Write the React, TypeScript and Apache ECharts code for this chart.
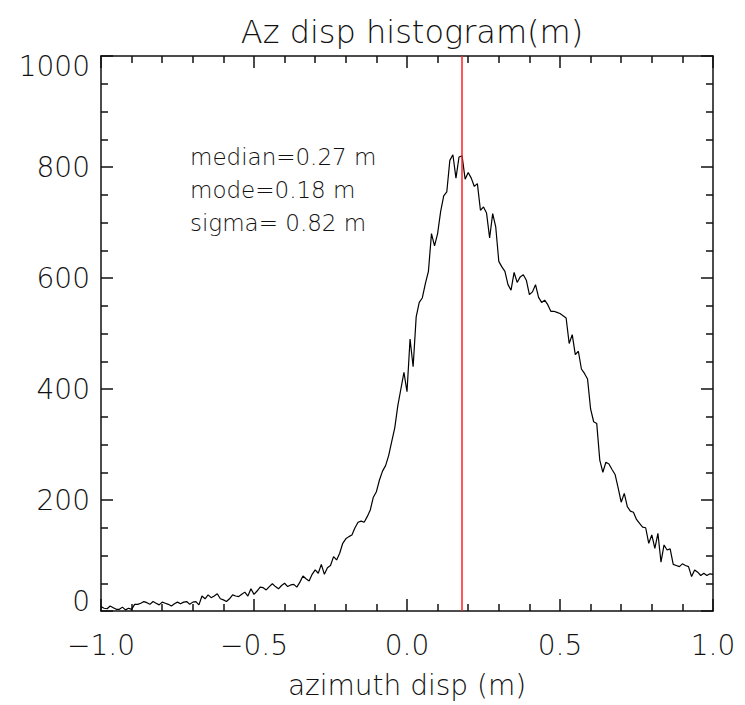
import React, { useEffect, useRef } from "react";
import * as echarts from "echarts";

const TITLE = "Az disp histogram(m)";
const X_NAME = "azimuth disp (m)";
const BIN_START = -1.0;
const BIN_WIDTH = 0.01;
const COUNTS: number[] = [
  8, 5, 4, 9, 6, 3, 3, 7, 2, 5,
  3, 12, 12, 14, 17, 15, 12, 17, 14, 11,
  16, 14, 12, 9, 13, 16, 13, 16, 17, 12,
  16, 17, 11, 27, 22, 29, 24, 27, 31, 22,
  20, 17, 22, 29, 27, 26, 30, 34, 27, 40,
  30, 36, 43, 42, 38, 44, 49, 44, 40, 46,
  50, 44, 47, 48, 43, 52, 63, 58, 54, 66,
  74, 68, 84, 66, 78, 82, 98, 92, 104, 122,
  130, 134, 137, 150, 160, 162, 160, 170, 182, 205,
  215, 236, 252, 262, 280, 305, 330, 370, 400, 430,
  395, 490, 440, 530, 556, 564, 590, 612, 680, 658,
  680, 720, 748, 755, 812, 822, 780, 818, 820, 778,
  790, 780, 765, 770, 722, 728, 717, 672, 716, 692,
  630, 620, 612, 588, 578, 610, 592, 602, 606, 596,
  570, 575, 588, 565, 556, 560, 552, 540, 540, 538,
  536, 532, 528, 482, 498, 462, 468, 436, 428, 418,
  364, 341, 338, 272, 250, 268, 265, 255, 246, 222,
  196, 212, 188, 180, 178, 165, 158, 151, 150, 122,
  137, 113, 140, 88, 119, 110, 112, 84, 82, 80,
  85, 82, 80, 62, 74, 70, 64, 68, 64, 67,
  66,
];
const MODE_VALUE = 0.18;
const STATS_LINES = ["median=0.27 m", "mode=0.18 m", "sigma= 0.82 m"];
const X_MIN = -1.0;
const X_MAX = 1.0;
const X_INTERVAL = 0.5;
const Y_MIN = 0;
const Y_MAX = 1000;
const Y_INTERVAL = 200;

const FONT = "DejaVu Sans";
const INK = "#111";

export default function App() {
  const ref = useRef<HTMLDivElement>(null);
  useEffect(() => {
    if (!ref.current) return;
    const chart = echarts.init(ref.current, null, { renderer: "svg" });
    const data = COUNTS.map((c, i) => [
      +(BIN_START + i * BIN_WIDTH).toFixed(3),
      c,
    ]);
    const axisLine = { show: true, onZero: false, lineStyle: { color: INK, width: 1.5 } };
    const xTick = { show: true, inside: true, length: 12, lineStyle: { color: INK, width: 1.5 } };
    const xMinor = { show: true, splitNumber: 5, length: 7, lineStyle: { color: INK, width: 1.5 } };
    const yTick = { show: true, inside: true, length: 12, lineStyle: { color: INK, width: 1.5 } };
    const yMinor = { show: true, splitNumber: 4, length: 7, lineStyle: { color: INK, width: 1.5 } };
    const fmtX = (v: number) => v.toFixed(1).replace("-", "\u2212");
    const fmtY = (v: number) => String(Math.round(v));
    chart.setOption({
      animation: false,
      backgroundColor: "#fff",
      title: {
        text: TITLE,
        left: 407,
        top: 11,
        textAlign: "center",
        textStyle: { fontFamily: FONT, fontSize: 32, fontWeight: 200, color: INK },
      },
      grid: { left: 101, right: 32, top: 56, bottom: 94, containLabel: false },
      xAxis: [
        {
          type: "value",
          position: "bottom",
          min: X_MIN,
          max: X_MAX,
          interval: X_INTERVAL,
          axisLine,
          axisTick: xTick,
          minorTick: xMinor,
          splitLine: { show: false },
          axisLabel: {
            formatter: fmtX,
            fontFamily: FONT,
            fontSize: 28,
            fontWeight: 200,
            color: INK,
            margin: 20,
          },
          name: X_NAME,
          nameLocation: "middle",
          nameGap: 60,
          nameTextStyle: { fontFamily: FONT, fontSize: 28, fontWeight: 200, color: INK },
        },
        {
          type: "value",
          position: "top",
          min: X_MIN,
          max: X_MAX,
          interval: X_INTERVAL,
          axisLine,
          axisTick: xTick,
          minorTick: xMinor,
          splitLine: { show: false },
          axisLabel: { show: false },
        },
      ],
      yAxis: [
        {
          type: "value",
          position: "left",
          min: Y_MIN,
          max: Y_MAX,
          interval: Y_INTERVAL,
          axisLine,
          axisTick: yTick,
          minorTick: yMinor,
          splitLine: { show: false },
          axisLabel: {
            formatter: fmtY,
            fontFamily: FONT,
            fontSize: 28,
            fontWeight: 200,
            color: INK,
            margin: 11,
            lineHeight: 20,
            verticalAlignMinLabel: "bottom",
            verticalAlignMaxLabel: "top",
          },
        },
        {
          type: "value",
          position: "right",
          min: Y_MIN,
          max: Y_MAX,
          interval: Y_INTERVAL,
          axisLine,
          axisTick: yTick,
          minorTick: yMinor,
          splitLine: { show: false },
          axisLabel: { show: false },
        },
      ],
      graphic: STATS_LINES.map((t, i) => ({
        type: "text",
        x: 190,
        y: 157 + i * 33,
        style: {
          text: t,
          fontFamily: FONT,
          fontSize: 23,
          fontWeight: 200,
          fill: INK,
          verticalAlign: "middle",
        },
      })),
      series: [
        {
          type: "line",
          xAxisIndex: 0,
          yAxisIndex: 0,
          data,
          showSymbol: false,
          symbol: "none",
          lineStyle: { color: "#000", width: 1.2 },
          markLine: {
            silent: true,
            symbol: "none",
            label: { show: false },
            lineStyle: { color: "#ff2020", width: 1.5, type: "solid" },
            data: [{ xAxis: MODE_VALUE }],
          },
        },
      ],
    });
    return () => chart.dispose();
  }, []);
  return (
    <div
      ref={ref}
      style={{ position: "absolute", left: 0, top: 0, width: 745, height: 705 }}
    />
  );
}
